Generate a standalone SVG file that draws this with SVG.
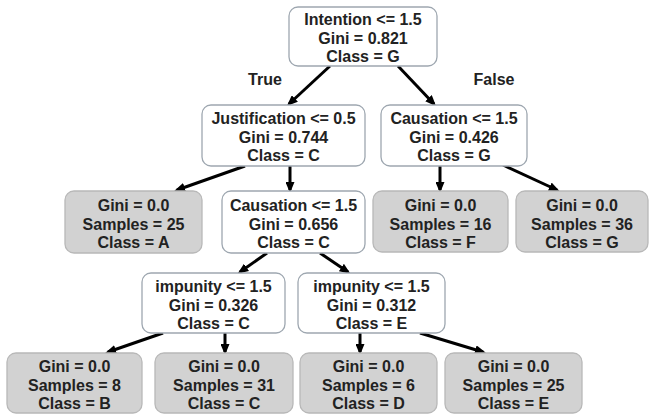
<svg xmlns="http://www.w3.org/2000/svg" width="650" height="416" viewBox="0 0 650 416">
<defs>
<style>
.dec rect{fill:#ffffff;stroke:#9ea7b0;stroke-width:1.3}
.leaf rect{fill:#d2d2d2;stroke:#b8b8b8;stroke-width:1.3}
text{font-family:"Liberation Sans",Arial,sans-serif;font-weight:bold;font-size:16px;fill:#222;text-anchor:middle}
.edges line{stroke:#000;stroke-width:3}
</style>
<marker id="ah" viewBox="0 0 11 9" refX="8" refY="4.5" markerWidth="11" markerHeight="9" markerUnits="userSpaceOnUse" orient="auto">
<path d="M0,0 L11,4.5 L0,9 z" fill="#000"/>
</marker>
</defs>
<rect width="650" height="416" fill="#ffffff"/>
<g class="edges">
<line x1="330" y1="66" x2="289" y2="104" marker-end="url(#ah)"/>
<line x1="398" y1="66" x2="434" y2="104" marker-end="url(#ah)"/>
<line x1="245" y1="166" x2="177" y2="190" marker-end="url(#ah)"/>
<line x1="290" y1="166" x2="290" y2="190" marker-end="url(#ah)"/>
<line x1="440" y1="166" x2="440" y2="190" marker-end="url(#ah)"/>
<line x1="503" y1="165" x2="557" y2="190" marker-end="url(#ah)"/>
<line x1="267" y1="253" x2="240" y2="272" marker-end="url(#ah)"/>
<line x1="320" y1="253" x2="348" y2="272" marker-end="url(#ah)"/>
<line x1="163" y1="333" x2="108" y2="352" marker-end="url(#ah)"/>
<line x1="225" y1="333" x2="225" y2="352" marker-end="url(#ah)"/>
<line x1="360" y1="333" x2="360" y2="352" marker-end="url(#ah)"/>
<line x1="420" y1="333" x2="483" y2="352" marker-end="url(#ah)"/>
<text x="265" y="85">True</text>
<text x="494" y="85">False</text>
</g>
<g id="root" class="dec"><rect x="289" y="7" width="148" height="59" rx="9"/>
<text x="363" y="25">Intention &lt;= 1.5</text><text x="363" y="43.5">Gini = 0.821</text><text x="363" y="62">Class = G</text></g>
<g id="justification" class="dec"><rect x="202" y="105" width="163" height="61" rx="9"/>
<text x="283.5" y="124">Justification &lt;= 0.5</text><text x="283.5" y="142.5">Gini = 0.744</text><text x="283.5" y="161">Class = C</text></g>
<g id="causationR" class="dec"><rect x="381" y="105" width="146" height="61" rx="9"/>
<text x="454" y="124">Causation &lt;= 1.5</text><text x="454" y="142.5">Gini = 0.426</text><text x="454" y="161">Class = G</text></g>
<g id="leafA" class="leaf"><rect x="65" y="191" width="137" height="62" rx="9"/>
<text x="133.5" y="211">Gini = 0.0</text><text x="133.5" y="229.5">Samples = 25</text><text x="133.5" y="248">Class = A</text></g>
<g id="causationM" class="dec"><rect x="222" y="191" width="143" height="62" rx="9"/>
<text x="293.5" y="211">Causation &lt;= 1.5</text><text x="293.5" y="229.5">Gini = 0.656</text><text x="293.5" y="248">Class = C</text></g>
<g id="leafF" class="leaf"><rect x="373" y="191" width="135" height="61" rx="9"/>
<text x="440.5" y="211">Gini = 0.0</text><text x="440.5" y="229.5">Samples = 16</text><text x="440.5" y="248">Class = F</text></g>
<g id="leafG" class="leaf"><rect x="516" y="191" width="132" height="61" rx="9"/>
<text x="582" y="211">Gini = 0.0</text><text x="582" y="229.5">Samples = 36</text><text x="582" y="248">Class = G</text></g>
<g id="impunityL" class="dec"><rect x="142" y="273" width="143" height="60" rx="9"/>
<text x="213.5" y="292">impunity &lt;= 1.5</text><text x="213.5" y="310.5">Gini = 0.326</text><text x="213.5" y="329">Class = C</text></g>
<g id="impunityR" class="dec"><rect x="298" y="273" width="147" height="60" rx="9"/>
<text x="371.5" y="292">impunity &lt;= 1.5</text><text x="371.5" y="310.5">Gini = 0.312</text><text x="371.5" y="329">Class = E</text></g>
<g id="leafB" class="leaf"><rect x="7" y="353" width="135" height="60" rx="9"/>
<text x="74.5" y="372">Gini = 0.0</text><text x="74.5" y="390.5">Samples = 8</text><text x="74.5" y="409">Class = B</text></g>
<g id="leafC" class="leaf"><rect x="155" y="353" width="138" height="60" rx="9"/>
<text x="224" y="372">Gini = 0.0</text><text x="224" y="390.5">Samples = 31</text><text x="224" y="409">Class = C</text></g>
<g id="leafD" class="leaf"><rect x="300" y="353" width="137" height="60" rx="9"/>
<text x="368.5" y="372">Gini = 0.0</text><text x="368.5" y="390.5">Samples = 6</text><text x="368.5" y="409">Class = D</text></g>
<g id="leafE" class="leaf"><rect x="445" y="353" width="137" height="60" rx="9"/>
<text x="513.5" y="372">Gini = 0.0</text><text x="513.5" y="390.5">Samples = 25</text><text x="513.5" y="409">Class = E</text></g>
</svg>
